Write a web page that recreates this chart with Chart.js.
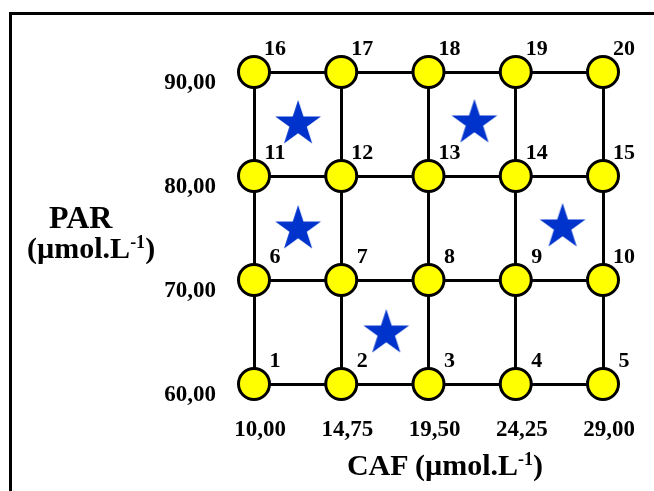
<!DOCTYPE html>
<html>
<head>
<meta charset="utf-8">
<script src="https://cdn.jsdelivr.net/npm/chart.js@4/dist/chart.umd.min.js"></script>
<style>
  html, body { margin: 0; padding: 0; background: #fff; }
  #wrap { position: relative; width: 654px; height: 491px; overflow: hidden; }
  #frame { position: absolute; left: 9px; top: 12px; width: 700px; height: 500px;
           border-top: 3px solid #000; border-left: 3px solid #000; }
  #plano { position: absolute; left: 0; top: 0; }
  .titulo { position: absolute; font-family: "Liberation Serif", "Times New Roman", serif;
            font-weight: bold; color: #000; white-space: nowrap; line-height: 1; }
  .titulo sup { font-size: 60%; vertical-align: 0.55em; }
</style>
</head>
<body>
<div id="wrap">
  <div id="frame"></div>
  <canvas id="plano" width="654" height="491"></canvas>
  <div class="titulo" style="left:49px; top:201px; font-size:32px;">PAR</div>
  <div class="titulo" style="left:27px; top:233px; font-size:30px;">(µmol.L<sup>-1</sup>)</div>
  <div class="titulo" style="left:245px; top:450px; width:400px; text-align:center; font-size:30px;">CAF (µmol.L<sup>-1</sup>)</div>
</div>
<script>
// niveis dos fatores (ticks dos eixos)
const CAF_TICKS = [10, 14.75, 19.5, 24.25, 29];
const PAR_TICKS = [60, 70, 80, 90];

// ensaios do planejamento (numero, CAF, PAR)
const RUN_NUM = [1, 2, 3, 4, 5, 6, 7, 8, 9, 10, 11, 12, 13, 14, 15, 16, 17, 18, 19, 20];
const RUN_CAF = [10, 14.75, 19.5, 24.25, 29, 10, 14.75, 19.5, 24.25, 29,
                 10, 14.75, 19.5, 24.25, 29, 10, 14.75, 19.5, 24.25, 29];
const RUN_PAR = [60, 60, 60, 60, 60, 70, 70, 70, 70, 70,
                 80, 80, 80, 80, 80, 90, 90, 90, 90, 90];

// estrelas (pontos escolhidos)
const STAR_CAF = [12.4, 22.0, 12.4, 26.8, 17.2];
const STAR_PAR = [85.0, 85.1, 74.9, 75.1, 64.9];

const FONTE = "'Liberation Serif', 'Times New Roman', serif";

function fmt(v) {
  return Number(v).toFixed(2).replace('.', ',');
}

function fazEstrela(R, cor) {
  const c = document.createElement('canvas');
  const s = Math.ceil(R * 2) + 2;
  c.width = s; c.height = s;
  const ctx = c.getContext('2d');
  const r = R * 0.382;
  ctx.beginPath();
  for (let i = 0; i < 10; i++) {
    const ang = -Math.PI / 2 + i * Math.PI / 5;
    const rad = (i % 2 === 0) ? R : r;
    const px = s / 2 + rad * Math.cos(ang);
    const py = s / 2 + rad * Math.sin(ang);
    if (i === 0) ctx.moveTo(px, py); else ctx.lineTo(px, py);
  }
  ctx.closePath();
  ctx.fillStyle = cor;
  ctx.fill();
  return c;
}
const estrela = fazEstrela(24, '#0033CC');

// numeros dos ensaios ao lado de cada circulo
const numerosPlugin = {
  id: 'numeros',
  afterDatasetsDraw(chart) {
    const meta = chart.getDatasetMeta(0);
    const ctx = chart.ctx;
    ctx.save();
    ctx.font = "bold 22px " + FONTE;
    ctx.fillStyle = '#000';
    ctx.textAlign = 'center';
    ctx.textBaseline = 'middle';
    meta.data.forEach(function(p, i) {
      ctx.fillText(String(RUN_NUM[i]), p.x + 21, p.y - 23);
    });
    ctx.restore();
  }
};

const pontos = RUN_CAF.map((x, i) => ({ x: x, y: RUN_PAR[i] }));
const estrelas = STAR_CAF.map((x, i) => ({ x: x, y: STAR_PAR[i] }));

new Chart(document.getElementById('plano'), {
  type: 'scatter',
  data: {
    datasets: [{
      data: pontos,
      pointRadius: 15.5,
      pointBackgroundColor: '#FFFF00',
      pointBorderColor: '#000',
      pointBorderWidth: 3,
      clip: false
    }, {
      data: estrelas,
      pointStyle: estrela,
      pointRadius: 24,
      clip: false
    }]
  },
  options: {
    responsive: false,
    animation: false,
    events: [],
    layout: { autoPadding: false, padding: { left: 150, right: 51, top: 72, bottom: 47 } },
    plugins: { legend: { display: false }, tooltip: { enabled: false } },
    scales: {
      x: {
        type: 'linear',
        min: 10,
        max: 29,
        afterBuildTicks: s => { s.ticks = CAF_TICKS.map(v => ({ value: v })); },
        afterFit: s => { s.height = 60; s.paddingLeft = 0; s.paddingRight = 0; },
        ticks: {
          callback: v => fmt(v),
          color: '#000',
          font: { family: FONTE, size: 23, weight: 'bold' },
          padding: 32,
          labelOffset: 6,
          maxRotation: 0,
          autoSkip: false
        },
        grid: { color: '#000', lineWidth: 3, drawTicks: false },
        border: { color: '#000', width: 3 }
      },
      y: {
        type: 'linear',
        min: 60,
        max: 90,
        afterBuildTicks: s => { s.ticks = PAR_TICKS.map(v => ({ value: v })); },
        afterFit: s => { s.width = 104; s.paddingTop = 0; s.paddingBottom = 0; },
        ticks: {
          callback: v => fmt(v),
          color: '#000',
          font: { family: FONTE, size: 23, weight: 'bold' },
          padding: 38,
          labelOffset: 11,
          autoSkip: false
        },
        grid: { color: '#000', lineWidth: 3, drawTicks: false },
        border: { color: '#000', width: 3 }
      }
    }
  },
  plugins: [numerosPlugin]
});
</script>
</body>
</html>
